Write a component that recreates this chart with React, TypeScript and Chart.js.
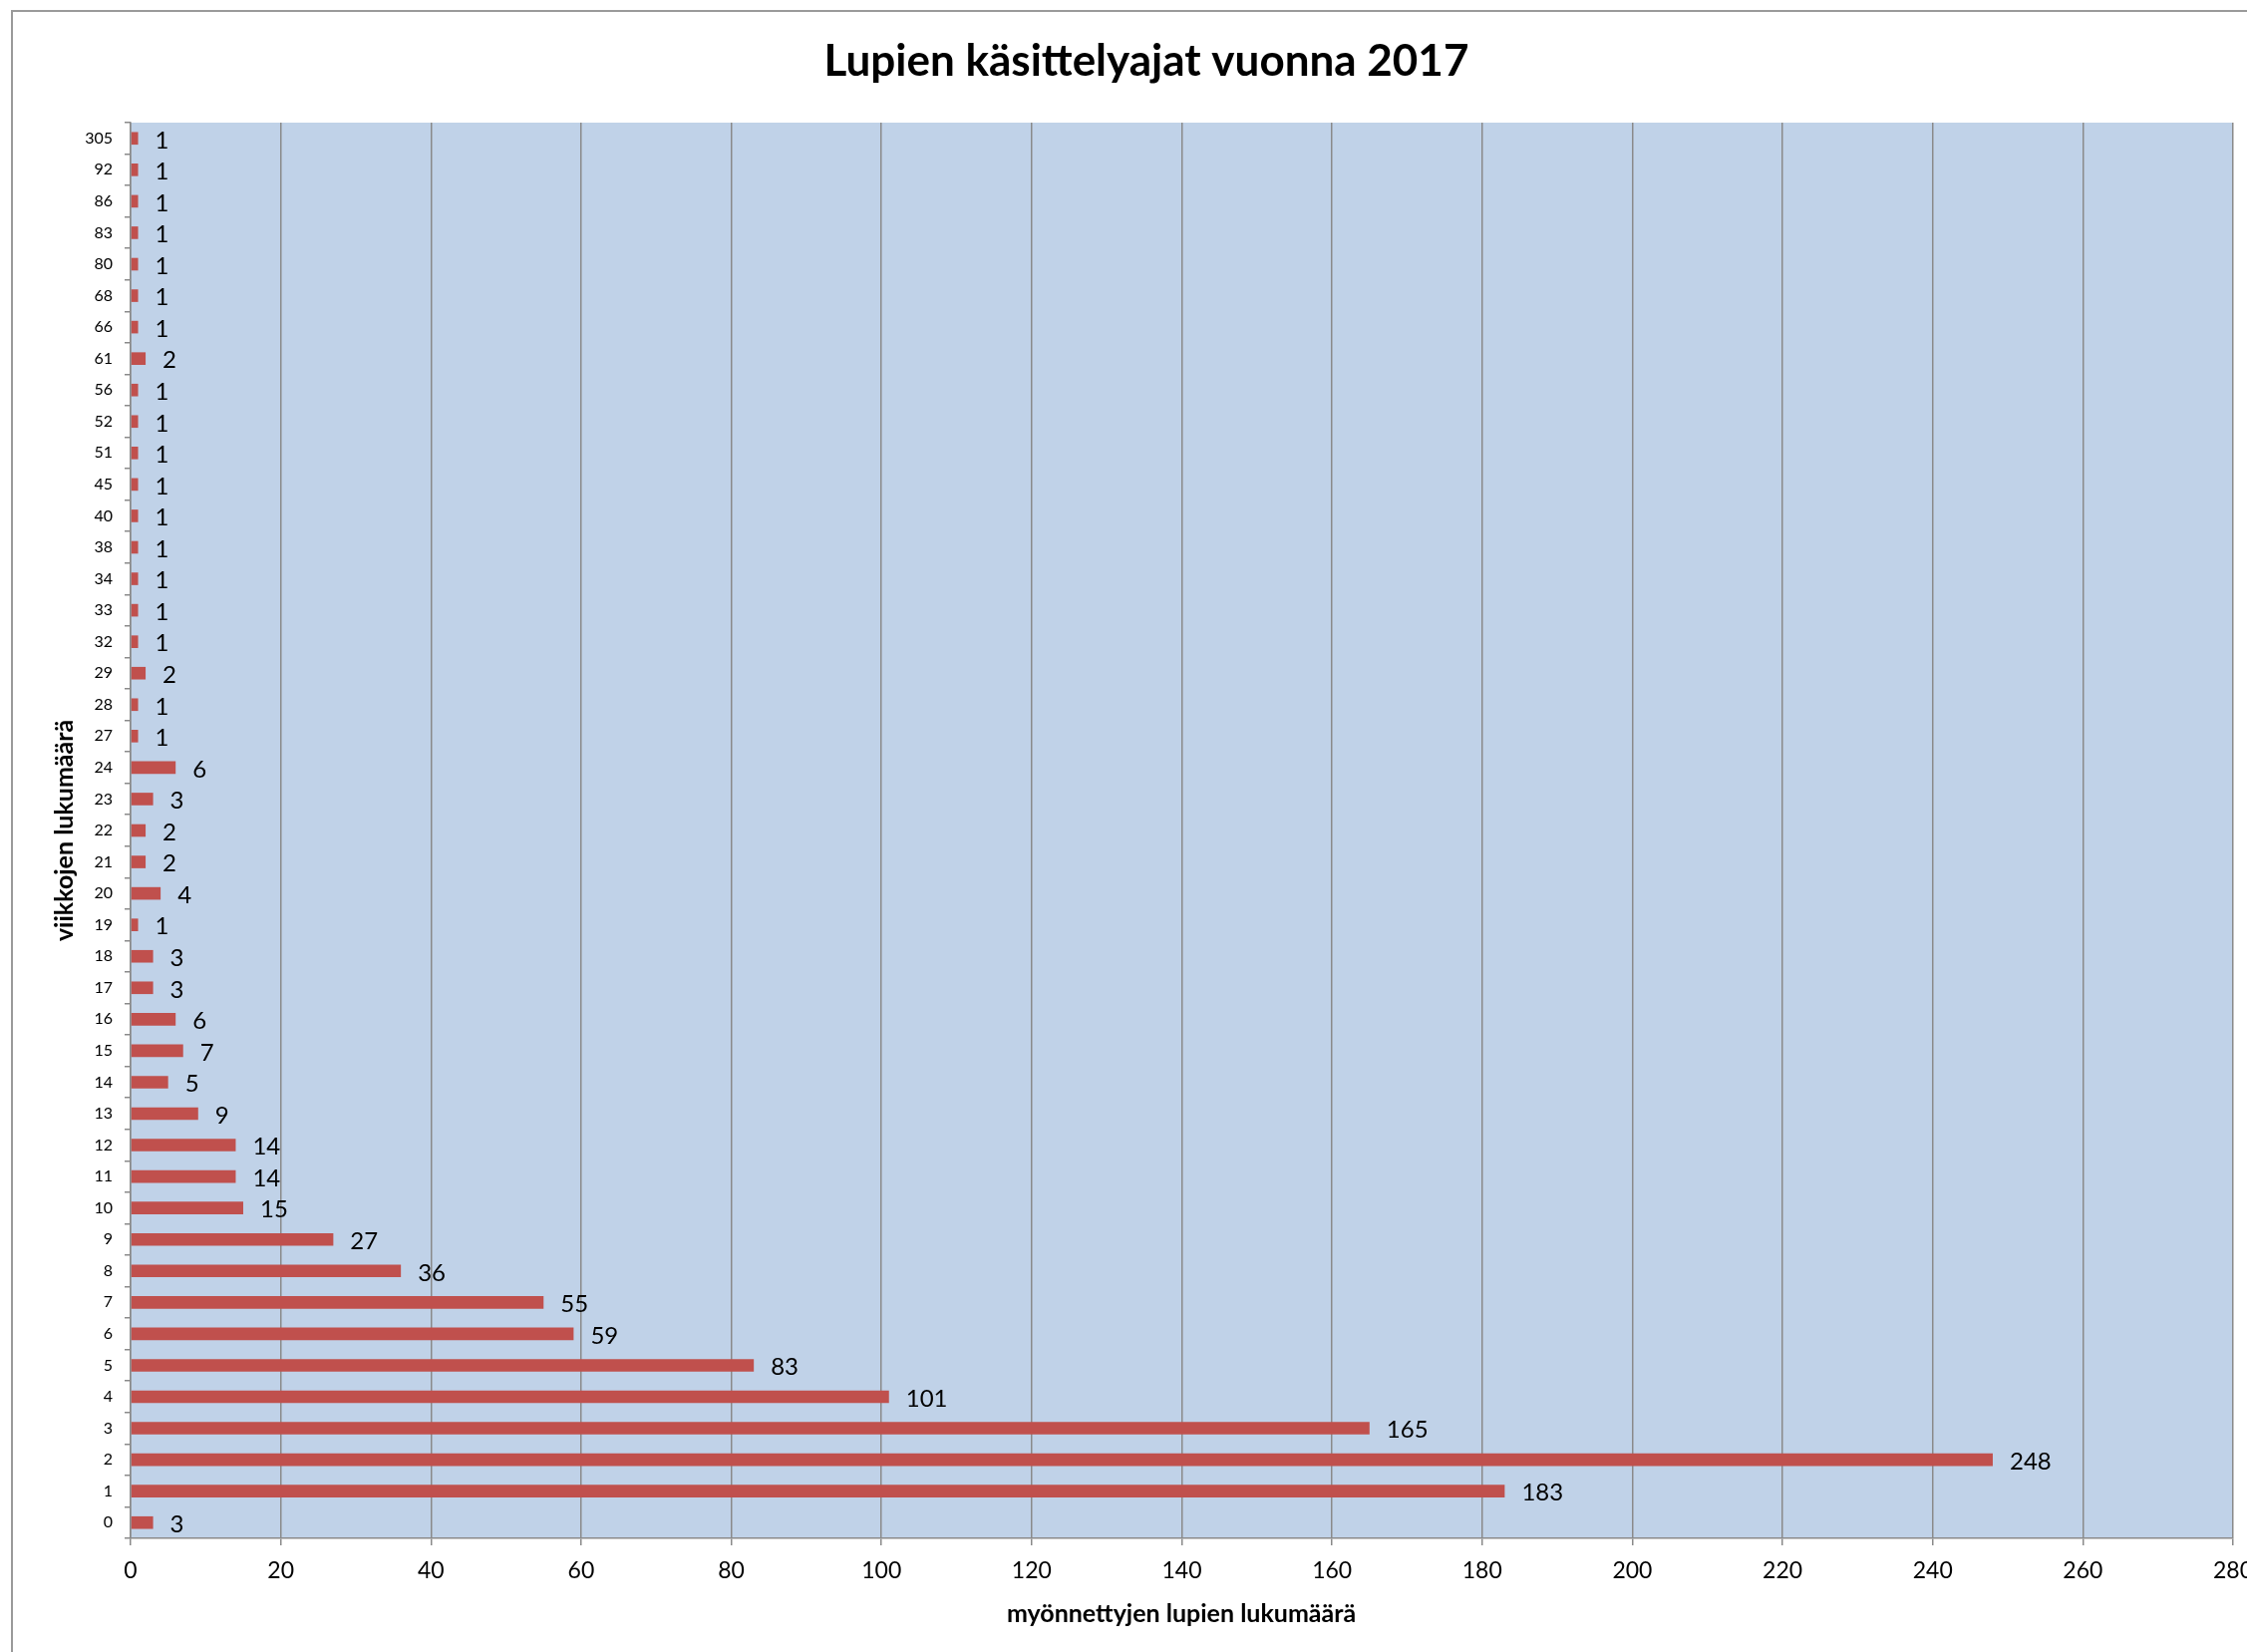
import React, { useEffect, useRef } from 'react';
import { Chart, registerables } from 'chart.js';

Chart.register(...registerables);

const categories = [
  '0', '1', '2', '3', '4', '5', '6', '7', '8', '9', '10', '11', '12', '13', '14', '15', '16',
  '17', '18', '19', '20', '21', '22', '23', '24', '27', '28', '29', '32', '33', '34', '38', '40',
  '45', '51', '52', '56', '61', '66', '68', '80', '83', '86', '92', '305',
];
const values = [
  3, 183, 248, 165, 101, 83, 59, 55, 36, 27, 15, 14, 14, 9, 5, 7, 6,
  3, 3, 1, 4, 2, 2, 3, 6, 1, 1, 2, 1, 1, 1, 1, 1,
  1, 1, 1, 1, 2, 1, 1, 1, 1, 1, 1, 1,
];
const xMin = 0;
const xMax = 280;
const xStep = 20;

const TITLE = 'Lupien käsittelyajat vuonna 2017';
const X_TITLE = 'myönnettyjen lupien lukumäärä';
const Y_TITLE = 'viikkojen lukumäärä';

const FONT = 'Lato, "Open Sans", sans-serif';
const GRID = '#8a8a8a';

export default function App() {
  const ref = useRef<HTMLCanvasElement | null>(null);

  useEffect(() => {
    if (!ref.current) return;
    Chart.defaults.font.family = FONT;

    const decor = {
      id: 'decor',
      beforeDraw(chart: any) {
        const { ctx, chartArea } = chart;
        ctx.save();
        ctx.fillStyle = '#ffffff';
        ctx.fillRect(0, 0, chart.width, chart.height);
        ctx.strokeStyle = '#9a9a9a';
        ctx.lineWidth = 2;
        ctx.strokeRect(12, 11, chart.width + 50, chart.height + 50);
        ctx.fillStyle = '#C0D2E8';
        ctx.fillRect(chartArea.left, chartArea.top, chartArea.right - chartArea.left, chartArea.bottom - chartArea.top);
        ctx.restore();
      },
      afterDatasetsDraw(chart: any) {
        const { ctx } = chart;
        const meta = chart.getDatasetMeta(0);
        ctx.save();
        ctx.fillStyle = '#000';
        ctx.font = `24px ${FONT}`;
        ctx.textAlign = 'left';
        ctx.textBaseline = 'middle';
        meta.data.forEach((el: any, i: number) => {
          ctx.fillText(String(values[i]), el.x + 17, el.y + 2);
        });
        ctx.restore();
      },
      afterDraw(chart: any) {
        const { ctx, chartArea } = chart;
        ctx.save();
        ctx.fillStyle = '#000';
        ctx.textAlign = 'center';
        ctx.textBaseline = 'middle';
        ctx.font = `bold 44px ${FONT}`;
        ctx.fillText(TITLE, 1150, 62);
        ctx.font = `bold 25px ${FONT}`;
        ctx.fillText(X_TITLE, 1185, 1619);
        ctx.translate(65, (chartArea.top + chartArea.bottom) / 2);
        ctx.rotate(-Math.PI / 2);
        ctx.fillText(Y_TITLE, 0, 0);
        ctx.restore();
      },
    };

    const chart = new Chart(ref.current, {
      type: 'bar',
      data: {
        labels: categories,
        datasets: [
          {
            data: values,
            backgroundColor: '#C0504D',
            borderColor: '#C0504D',
            borderWidth: 0,
            barPercentage: 0.4,
            categoryPercentage: 1,
          },
        ],
      },
      options: {
        indexAxis: 'y',
        responsive: false,
        animation: false,
        layout: { padding: { top: 123, right: 14, bottom: 0, left: 0 } },
        plugins: {
          legend: { display: false },
          tooltip: { enabled: false },
          title: { display: false },
        },
        scales: {
          x: {
            type: 'linear',
            min: xMin,
            max: xMax,
            ticks: { stepSize: xStep, color: '#000', font: { size: 23 }, padding: 12 },
            grid: { color: GRID, lineWidth: 1.5, tickLength: 7, drawTicks: true },
            border: { color: GRID, width: 1.5 },
            afterFit(s: any) {
              s.height = 114;
              s.paddingLeft = 0;
              s.paddingRight = 0;
            },
          },
          y: {
            type: 'category',
            reverse: true,
            offset: true,
            ticks: { color: '#000', font: { size: 16 }, padding: 12, autoSkip: false },
            grid: { drawOnChartArea: false, color: GRID, lineWidth: 1.5, tickLength: 6, offset: true },
            border: { color: GRID, width: 1.5 },
            afterFit(s: any) {
              s.width = 131;
              s.paddingTop = 0;
              s.paddingBottom = 0;
            },
          },
        },
      },
      plugins: [decor],
    } as any);

    return () => chart.destroy();
  }, []);

  return (
    <div style={{ position: 'absolute', left: 0, top: 0, width: 2254, height: 1657 }}>
      <canvas ref={ref} width={2254} height={1657} style={{ display: 'block' }} />
    </div>
  );
}
